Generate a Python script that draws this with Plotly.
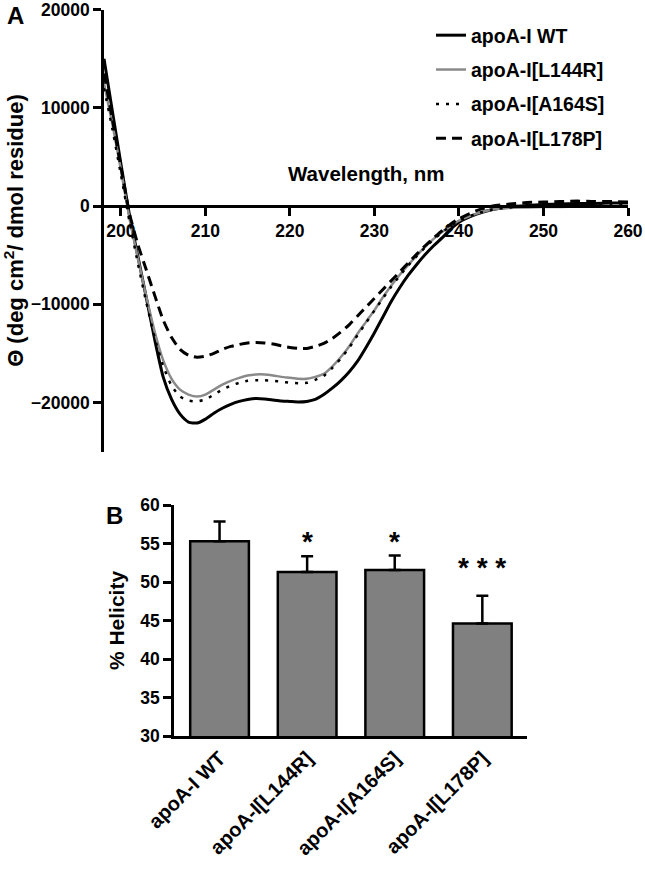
import plotly.graph_objects as go

# ---- panel A: CD spectra ----
wavelength = list(range(198, 241)) + list(range(242, 261, 2))

wt = [15000, 9600, 4300, -850, -5100, -9300, -13600, -17400, -19700, -21200,
      -22000, -22100, -21700, -21100, -20600, -20200, -19900, -19700, -19600,
      -19650, -19750, -19850, -19900, -19950, -19900, -19700, -19200,
      -18550, -17800, -16900, -15800, -14400, -12900, -11300, -9700, -8300,
      -7050, -5950, -4950, -4050, -3250, -2350, -1650,
      -850, -350, -100, 50, 150, 200, 250, 250, 300, 300]

l144r = [12500, 8300, 3700, -1200, -5300, -9200, -12800, -15700, -17600, -18700,
         -19200, -19400, -19200, -18700, -18200, -17800, -17500, -17250, -17150,
         -17150, -17250, -17400, -17500, -17600, -17600, -17400, -17100,
         -16350, -15400, -14300, -13000, -11800, -10600, -9300, -8100, -7000,
         -6000, -5050, -4150, -3350, -2650, -2050, -1500,
         -800, -350, -200, -150, -100, -100, -50, -50, 0, 0]

a164s = [12000, 7800, 3200, -1500, -5800, -9800, -13400, -16300, -18300, -19400,
         -19800, -19900, -19700, -19200, -18700, -18300, -18000, -17800, -17750,
         -17750, -17800, -17900, -18000, -18050, -18000, -17700, -17300,
         -16500, -15550, -14450, -13150, -11900, -10650, -9400, -8200, -7100,
         -6050, -5100, -4200, -3400, -2700, -2050, -1500,
         -800, -350, -150, 0, 100, 150, 150, 200, 200, 200]

l178p = [13500, 8800, 4000, -700, -3900, -6500, -9100, -11600, -13400, -14600,
         -15200, -15400, -15300, -15000, -14600, -14300, -14100, -13950, -13900,
         -13950, -14050, -14250, -14400, -14500, -14500, -14300, -14000,
         -13500, -12850, -12100, -11200, -10300, -9400, -8500, -7600, -6700,
         -5800, -4900, -4050, -3250, -2500, -1850, -1300,
         -500, 0, 200, 350, 400, 450, 500, 450, 450, 400]

series_names = ["apoA-I WT", "apoA-I[L144R]", "apoA-I[A164S]", "apoA-I[L178P]"]

# ---- panel B: % helicity ----
variants = ["apoA-I WT", "apoA-I[L144R]", "apoA-I[A164S]", "apoA-I[L178P]"]
helicity = [55.3, 51.3, 51.55, 44.6]
helicity_sd = [2.55, 2.05, 1.9, 3.6]
significance = ["", "*", "*", "* * *"]

FONT = "Liberation Sans, Arial, sans-serif"
W, H = 645, 872

fig = go.Figure()

styles = [
    dict(color="black", width=3, dash="solid"),
    dict(color="#8a8a8a", width=2.5, dash="solid"),
    dict(color="black", width=2.5, dash="3px,7px"),
    dict(color="black", width=3, dash="10px,6px"),
]
for name, ys, st in zip(series_names, [wt, l144r, a164s, l178p], styles):
    fig.add_trace(go.Scatter(x=wavelength, y=ys, mode="lines", name=name,
                             legendgroup=name,
                             line=dict(shape="spline", smoothing=0.6, **st),
                             xaxis="x", yaxis="y"))

fig.add_trace(go.Bar(x=list(range(len(variants))), y=helicity, width=0.67,
                     marker=dict(color="#808080", line=dict(color="black", width=2.5)),
                     error_y=dict(type="data", array=helicity_sd, arrayminus=[0] * 4,
                                  symmetric=False, color="black", thickness=2.5, width=6),
                     showlegend=False, xaxis="x2", yaxis="y2"))


# pixel helpers for the layout
def fx(px):
    return px / W


def fy(py):
    return 1 - py / H


ya_top, ya_bot = 9.6, 451.5      # 20000 .. -25000
yzero = 206
tickfont = dict(family=FONT, size=17.5, color="black", weight="bold")
axis_common = dict(showline=True, linecolor="black", linewidth=2.5, ticks="outside",
                   tickwidth=2.5, tickcolor="black", showgrid=False,
                   zeroline=False, automargin=False, ticklabeloverflow="allow")

fig.update_layout(
    width=W, height=H, margin=dict(l=0, r=0, t=0, b=0, autoexpand=False),
    paper_bgcolor="white", plot_bgcolor="white",
    font=dict(family=FONT, color="black"),
    xaxis=dict(domain=[fx(104), fx(628)], range=[198, 260], anchor="free",
               position=fy(yzero), tickvals=[200, 210, 220, 230, 240, 250, 260],
               ticklen=8, tickfont=tickfont, **axis_common),
    yaxis=dict(domain=[fy(ya_bot), fy(ya_top)], range=[-25000, 20000], anchor="x",
               tickvals=[-20000, -10000, 0, 10000, 20000], tickformat="d",
               ticklen=8, tickfont=tickfont,
               title=dict(text="Θ (deg cm<sup>2</sup>/ dmol residue)", standoff=3,
                          font=dict(family=FONT, size=22, weight="bold")),
               **axis_common),
    xaxis2=dict(domain=[fx(174), fx(527)], range=[-0.52, 3.51], anchor="y2",
                tickvals=list(range(len(variants))), ticktext=variants, tickangle=-45,
                ticklen=0, tickfont=dict(family=FONT, size=20, color="black", weight="bold"),
                **axis_common),
    yaxis2=dict(domain=[fy(736), fy(505)], range=[30, 60], anchor="x2", dtick=5,
                ticklen=8, tickfont=tickfont,
                title=dict(text="% Helicity", standoff=10,
                           font=dict(family=FONT, size=21, weight="bold")),
                **axis_common),
    legend=dict(x=fx(431), y=fy(16), xanchor="left", yanchor="top",
                traceorder="grouped", tracegroupgap=6, bgcolor="rgba(0,0,0,0)",
                font=dict(family=FONT, size=19.5, weight="bold")),
    showlegend=True,
)

centered = dict(xref="paper", yref="paper", xanchor="center", yanchor="middle",
                showarrow=False)
annotations = [
    dict(text="Wavelength, nm", x=fx(366), y=fy(173),
         font=dict(family=FONT, size=20.5, weight="bold"), **centered),
    dict(text="A", x=fx(15), y=fy(15),
         font=dict(family=FONT, size=24, weight="bold"), **centered),
    dict(text="B", x=fx(114), y=fy(515),
         font=dict(family=FONT, size=24, weight="bold"), **centered),
]
sig_y = [0, 55.2, 55.2, 51.9]
for i, s in enumerate(significance):
    if s:
        annotations.append(dict(text=s, x=i, y=sig_y[i], xref="x2", yref="y2",
                                xanchor="center", yanchor="middle", showarrow=False,
                                font=dict(family=FONT, size=28, weight="bold")))
fig.update_layout(annotations=annotations)

# drop the browser's default 8px body margin so the figure fills the window
fig.write_html("out.html", config={"displayModeBar": False},
               post_script="document.body.style.margin='0px';")
